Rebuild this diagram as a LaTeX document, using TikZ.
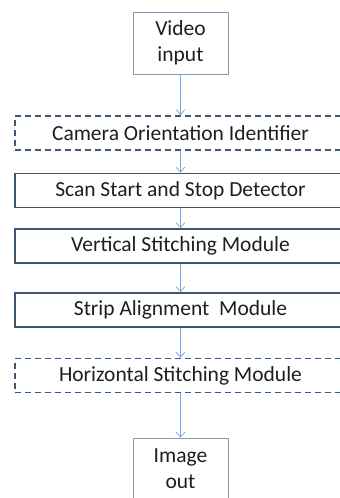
\documentclass[tikz,border=0pt]{standalone}
\usepackage{fontspec}
\setmainfont{Carlito}
\usetikzlibrary{arrows.meta}
\definecolor{txt}{HTML}{1E1E1E}
\definecolor{iobox}{HTML}{8C98A8}
\definecolor{modbox}{HTML}{42556E}
\definecolor{dashbox}{HTML}{3F5878}
\definecolor{arr}{HTML}{8AA4CC}
\tikzset{
  iobox/.style={draw=iobox, line width=0.9pt, minimum width=95pt, minimum height=62pt, inner sep=0pt, align=center, text=txt, font=\fontsize{21.5}{26}\selectfont},
  modbox/.style={draw=modbox, line width=1.7pt, minimum width=331pt, minimum height=34pt, inner sep=0pt, text=txt, font=\fontsize{21.5}{26}\selectfont},
  dashbox/.style={modbox, draw=dashbox, line width=1.7pt, dash pattern=on 6pt off 4pt},
  flow/.style={draw=arr, line width=0.8pt, -{Straight Barb[length=5pt,width=9pt]}}
}
\begin{document}
\begin{tikzpicture}[x=1pt,y=-1pt]
\useasboundingbox (0,0) rectangle (340,498);
\clip (0,0) rectangle (340,498);
\node[iobox] (vin) at (180.5,43) {Video\\input};
\node[dashbox] (cam) at (180.5,133) {Camera Orientation Identifier};
\node[modbox] (scan) at (180.5,190.5) {Scan Start and Stop Detector};
\node[modbox] (vert) at (180.5,246) {Vertical Stitching Module};
\node[modbox] (strip) at (180.5,310) {Strip Alignment\ \ Module};
\node[dashbox] (hor) at (180.5,375.5) {Horizontal Stitching Module};
\node[iobox] (iout) at (180.5,469) {Image\\out};
\draw[flow] (vin) -- (cam);
\draw[flow] (cam) -- (scan);
\draw[flow] (scan) -- (vert);
\draw[flow] (vert) -- (strip);
\draw[flow] (strip) -- (hor);
\draw[flow] (hor) -- (iout);
\end{tikzpicture}
\end{document}
